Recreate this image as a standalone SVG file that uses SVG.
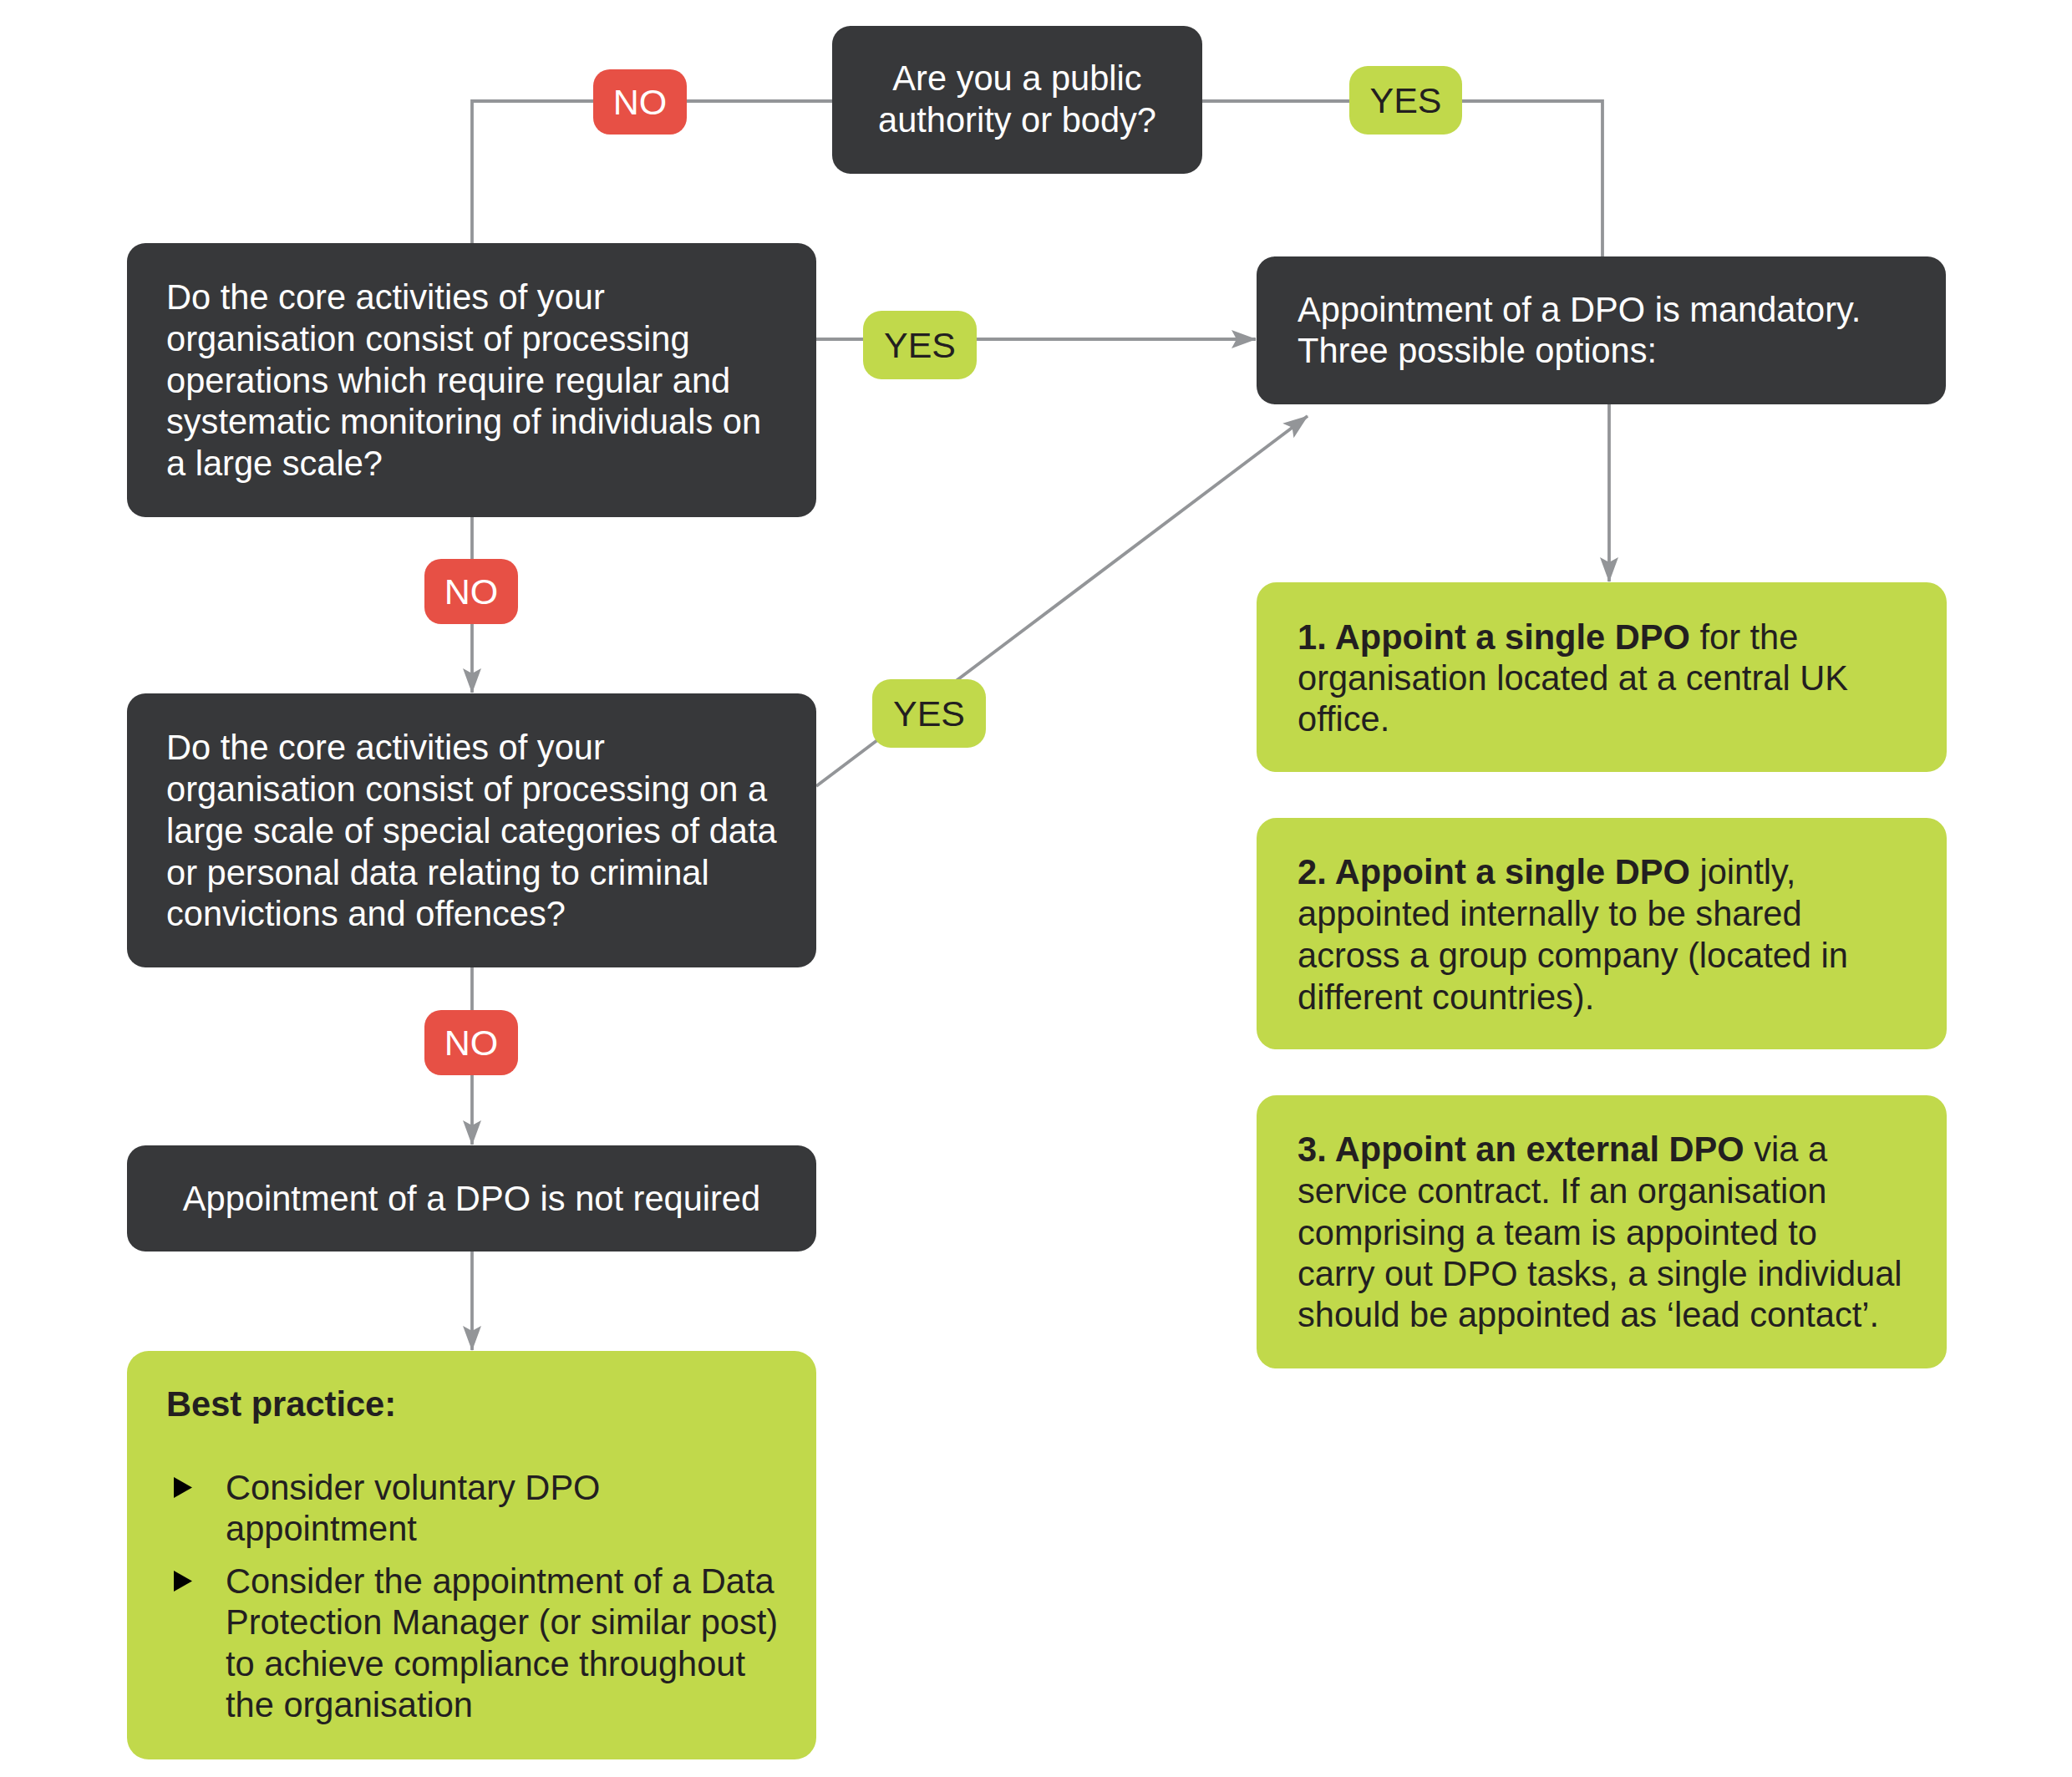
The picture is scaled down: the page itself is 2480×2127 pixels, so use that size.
<svg xmlns="http://www.w3.org/2000/svg" width="2480" height="2127" viewBox="0 0 2480 2127">
<style>
.dark{fill:#37383a}
.green{fill:#c1d94b}
.red{fill:#e75045}
.t{font-family:"Liberation Sans",Arial,Helvetica,sans-serif;font-size:41.6px}
.w{fill:#ffffff}
.k{fill:#231f20}
.b{font-weight:bold}
.lbl{font-family:"Liberation Sans",Arial,Helvetica,sans-serif;font-size:43px;text-anchor:middle}
.c{stroke:#939598;stroke-width:3.8;fill:none}
</style>
<defs>
<marker id="arr" viewBox="0 0 30 22" markerWidth="30" markerHeight="22" refX="29" refY="11" orient="auto" markerUnits="userSpaceOnUse">
<path d="M0,0 L30,11 L0,22 L6,11 Z" fill="#939598"/>
</marker>
</defs>
<rect width="2480" height="2127" fill="#ffffff"/>

<g id="connectors">
<polyline class="c" points="996,121 565,121 565,291"/>
<polyline class="c" points="1439,121 1918,121 1918,307"/>
<line class="c" x1="977" y1="406" x2="1503" y2="406" marker-end="url(#arr)"/>
<line class="c" x1="565" y1="619" x2="565" y2="829" marker-end="url(#arr)"/>
<line class="c" x1="977" y1="941" x2="1565" y2="498" marker-end="url(#arr)"/>
<line class="c" x1="1926" y1="484" x2="1926" y2="696" marker-end="url(#arr)"/>
<line class="c" x1="565" y1="1158" x2="565" y2="1370" marker-end="url(#arr)"/>
<line class="c" x1="565" y1="1498" x2="565" y2="1616" marker-end="url(#arr)"/>
</g>

<g id="q1">
<rect class="dark" x="996" y="31" width="443" height="177" rx="22"/>
<text class="t w" text-anchor="middle"><tspan x="1217.5" y="108">Are you a public</tspan><tspan x="1217.5" y="158">authority or body?</tspan></text>
</g>

<g id="q2">
<rect class="dark" x="152" y="291" width="825" height="328" rx="22"/>
<text class="t w"><tspan x="199" y="370">Do the core activities of your</tspan><tspan x="199" y="420">organisation consist of processing</tspan><tspan x="199" y="470">operations which require regular and</tspan><tspan x="199" y="519">systematic monitoring of individuals on</tspan><tspan x="199" y="569">a large scale?</tspan></text>
</g>

<g id="mandatory">
<rect class="dark" x="1504" y="307" width="825" height="177" rx="22"/>
<text class="t w"><tspan x="1553" y="385">Appointment of a DPO is mandatory.</tspan><tspan x="1553" y="434">Three possible options:</tspan></text>
</g>

<g id="q3">
<rect class="dark" x="152" y="830" width="825" height="328" rx="22"/>
<text class="t w"><tspan x="199" y="909">Do the core activities of your</tspan><tspan x="199" y="959">organisation consist of processing on a</tspan><tspan x="199" y="1009">large scale of special categories of data</tspan><tspan x="199" y="1059">or personal data relating to criminal</tspan><tspan x="199" y="1108">convictions and offences?</tspan></text>
</g>

<g id="notrequired">
<rect class="dark" x="152" y="1371" width="825" height="127" rx="22"/>
<text class="t w" x="564.5" y="1449" text-anchor="middle">Appointment of a DPO is not required</text>
</g>

<g id="bestpractice">
<rect class="green" x="152" y="1617" width="825" height="489" rx="26"/>
<text class="t k b" x="199" y="1695">Best practice:</text>
<polygon points="208,1768 230,1780.5 208,1793" fill="#000000"/>
<polygon points="208,1880 230,1892.5 208,1905" fill="#000000"/>
<text class="t k"><tspan x="270" y="1795">Consider voluntary DPO</tspan><tspan x="270" y="1844">appointment</tspan><tspan x="270" y="1907">Consider the appointment of a Data</tspan><tspan x="270" y="1956">Protection Manager (or similar post)</tspan><tspan x="270" y="2006">to achieve compliance throughout</tspan><tspan x="270" y="2055">the organisation</tspan></text>
</g>

<g id="option1">
<rect class="green" x="1504" y="697" width="826" height="227" rx="24"/>
<text class="t k"><tspan x="1553" y="777"><tspan class="b">1. Appoint a single DPO</tspan> for the</tspan><tspan x="1553" y="826">organisation located at a central UK</tspan><tspan x="1553" y="875">office.</tspan></text>
</g>

<g id="option2">
<rect class="green" x="1504" y="979" width="826" height="277" rx="24"/>
<text class="t k"><tspan x="1553" y="1058"><tspan class="b">2. Appoint a single DPO</tspan> jointly,</tspan><tspan x="1553" y="1108">appointed internally to be shared</tspan><tspan x="1553" y="1158">across a group company (located in</tspan><tspan x="1553" y="1208">different countries).</tspan></text>
</g>

<g id="option3">
<rect class="green" x="1504" y="1311" width="826" height="327" rx="24"/>
<text class="t k"><tspan x="1553" y="1390"><tspan class="b">3. Appoint an external DPO</tspan> via a</tspan><tspan x="1553" y="1440">service contract. If an organisation</tspan><tspan x="1553" y="1490">comprising a team is appointed to</tspan><tspan x="1553" y="1539">carry out DPO tasks, a single individual</tspan><tspan x="1553" y="1588">should be appointed as ‘lead contact’.</tspan></text>
</g>

<g id="label-no1">
<rect class="red" x="710" y="83" width="112" height="78" rx="20"/>
<text class="lbl w" x="766" y="137">NO</text>
</g>
<g id="label-yes1">
<rect class="green" x="1615" y="79" width="135" height="82" rx="22"/>
<text class="lbl k" x="1682.5" y="135">YES</text>
</g>
<g id="label-yes2">
<rect class="green" x="1033" y="372" width="136" height="82" rx="22"/>
<text class="lbl k" x="1101" y="428">YES</text>
</g>
<g id="label-no2">
<rect class="red" x="508" y="669" width="112" height="78" rx="20"/>
<text class="lbl w" x="564" y="723">NO</text>
</g>
<g id="label-yes3">
<rect class="green" x="1044" y="813" width="136" height="82" rx="22"/>
<text class="lbl k" x="1112" y="869">YES</text>
</g>
<g id="label-no3">
<rect class="red" x="508" y="1209" width="112" height="78" rx="20"/>
<text class="lbl w" x="564" y="1263">NO</text>
</g>
</svg>
